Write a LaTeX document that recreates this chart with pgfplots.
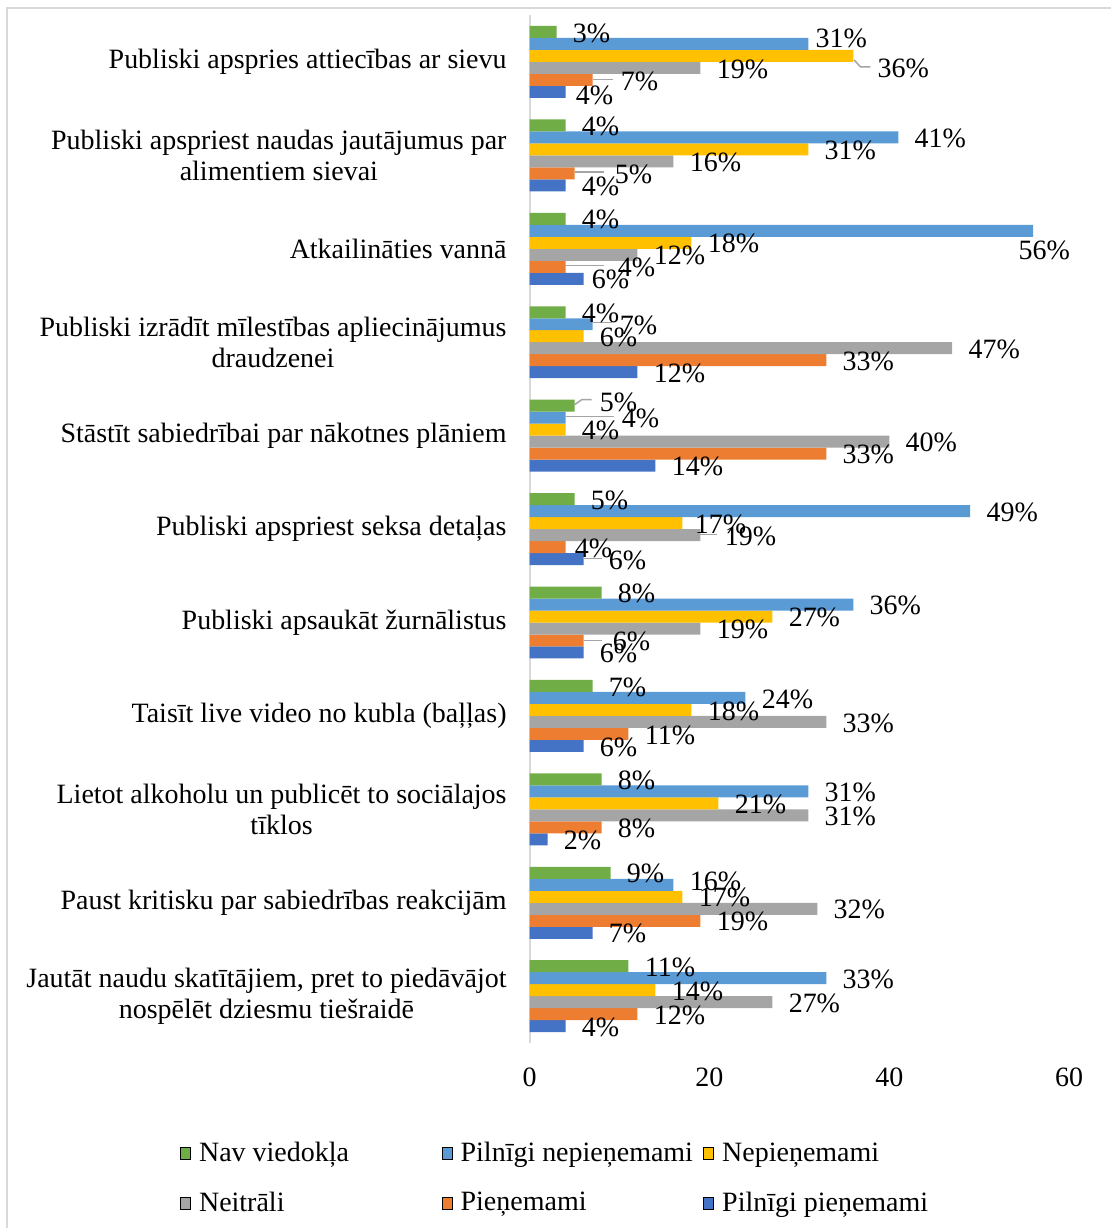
\documentclass[border=0pt]{standalone}
\usepackage{fontspec}
\setmainfont{Liberation Serif}
\usepackage{pgfplots}
\usepackage{pgfplotstable}
\pgfplotsset{compat=1.18}
\definecolor{cgreen}{HTML}{70AD47}
\definecolor{clblue}{HTML}{5B9BD5}
\definecolor{cyellow}{HTML}{FFC000}
\definecolor{cgray}{HTML}{A5A5A5}
\definecolor{corange}{HTML}{ED7D31}
\definecolor{cdblue}{HTML}{4472C4}
\definecolor{cframe}{HTML}{D9D9D9}
\pgfplotstableread{
idx nav pilnne ne neit pien pilnpien
0  3  31 36 19  7  4
1  4  41 31 16  5  4
2  4  56 18 12  4  6
3  4   7  6 47 33 12
4  5   4  4 40 33 14
5  5  49 17 19  4  6
6  8  36 27 19  6  6
7  7  24 18 33 11  6
8  8  31 21 31  8  2
9  9  16 17 32 19  7
10 11 33 14 27 12  4
}\datatable
\begin{document}
\begin{tikzpicture}[x=1pt,y=1pt,font=\fontsize{14}{15.5}\selectfont]
\path (0,0) rectangle (556,-614.5);
\draw[cframe, line width=1pt] (3.5,-614.5) -- (3.5,-4) -- (556,-4);
\begin{axis}[
  at={(265pt,-7.625pt)}, anchor=north west,
  scale only axis, width=270pt, height=514.25pt,
  xbar=0pt, bar width=6pt,
  xmin=0, xmax=60, ymin=-0.5, ymax=10.5, y dir=reverse,
  axis x line*=bottom, axis y line*=left,
  x axis line style={draw=none},
  y axis line style={draw=cframe, line width=1pt, -},
  major tick length=0pt,
  xtick={0,20,40,60},
  ytick={0,1,2,3,4,5,6,7,8,9,10},
  yticklabels={
    Publiski apspries attiecības ar sievu,
    {Publiski apspriest naudas jautājumus par\\alimentiem sievai},
    Atkailināties vannā,
    {Publiski izrādīt mīlestības apliecinājumus\\draudzenei},
    Stāstīt sabiedrībai par nākotnes plāniem,
    Publiski apspriest seksa detaļas,
    Publiski apsaukāt žurnālistus,
    Taisīt live video no kubla (baļļas),
    {Lietot alkoholu un publicēt to sociālajos\\tīklos},
    Paust kritisku par sabiedrības reakcijām,
    {Jautāt naudu skatītājiem, pret to piedāvājot\\nospēlēt dziesmu tiešraidē}
  },
  yticklabel style={align=center, xshift=-8pt},
  xticklabel style={yshift=-9pt},
  /pgf/number format/assume math mode=true,
  point meta=x,
  nodes near coords={\pgfmathprintnumber{\pgfplotspointmeta}\%},
  nodes near coords style={anchor=west, inner sep=2pt, black, xshift=6pt, yshift=-0.5pt},
  legend columns=3,
  legend cell align=left,
  legend style={at={(-0.6481,-0.0926)}, anchor=north west, draw=none, inner sep=0pt,
    column sep=0pt, row sep=9.5pt, nodes={inner sep=2pt, anchor=west}},
  legend image code/.code={\fill[#1] (0pt,-3pt) rectangle (5pt,3pt);},
]
\addplot[forget plot, bar shift=-15pt, fill=cdblue, draw=none,
  coordinate style/.condition={\coordindex==0}{xshift=-3pt, yshift=-1pt},
  coordinate style/.condition={\coordindex==2}{xshift=-4pt},
  coordinate style/.condition={\coordindex==5}{xshift=4.5pt}]
  table[x=pilnpien, y=idx] {\datatable};
\addplot[forget plot, bar shift=-9pt, fill=corange, draw=none,
  coordinate style/.condition={\coordindex==0}{xshift=6pt},
  coordinate style/.condition={\coordindex==1}{xshift=12pt},
  coordinate style/.condition={\coordindex==2}{xshift=18pt},
  coordinate style/.condition={\coordindex==5}{xshift=-3.5pt},
  coordinate style/.condition={\coordindex==6}{xshift=6.5pt}]
  table[x=pien, y=idx] {\datatable};
\addplot[forget plot, bar shift=-3pt, fill=cgray, draw=none,
  coordinate style/.condition={\coordindex==5}{xshift=4pt}]
  table[x=neit, y=idx] {\datatable};
\addplot[forget plot, bar shift=3pt, fill=cyellow, draw=none,
  coordinate style/.condition={\coordindex==0}{xshift=4pt, yshift=-5.5pt},
  coordinate style/.condition={\coordindex==5}{xshift=-2pt}]
  table[x=ne, y=idx] {\datatable};
\addplot[forget plot, bar shift=9pt, fill=clblue, draw=none,
  coordinate style/.condition={\coordindex==0}{xshift=-4.5pt, yshift=3.5pt},
  coordinate style/.condition={\coordindex==2}{xshift=-15.5pt, yshift=-9.5pt},
  coordinate style/.condition={\coordindex==3}{xshift=5.5pt},
  coordinate style/.condition={\coordindex==4}{xshift=20pt},
  coordinate style/.condition={\coordindex==9}{yshift=2pt}]
  table[x=pilnne, y=idx] {\datatable};
\addplot[forget plot, bar shift=15pt, fill=cgreen, draw=none,
  coordinate style/.condition={\coordindex==4}{xshift=4.5pt, yshift=2pt}]
  table[x=nav, y=idx] {\datatable};
\addlegendimage{fill=cgreen}
\addlegendentry{\hspace{2pt}\makebox[119.5pt][l]{Nav viedokļa}}
\addlegendimage{fill=clblue}
\addlegendentry{\hspace{2pt}\makebox[119.5pt][l]{Pilnīgi nepieņemami}}
\addlegendimage{fill=cyellow}
\addlegendentry{\hspace{2pt}\makebox[119.5pt][l]{Nepieņemami}}
\addlegendimage{fill=cgray}
\addlegendentry{\hspace{2pt}\makebox[119.5pt][l]{Neitrāli}}
\addlegendimage{fill=corange}
\addlegendentry{\hspace{2pt}\makebox[119.5pt][l]{Pieņemami}}
\addlegendimage{fill=cdblue}
\addlegendentry{\hspace{2pt}\makebox[119.5pt][l]{Pilnīgi pieņemami}}
% leader lines
\begin{scope}[cgray, line width=0.75pt]
\draw (axis cs:36.1,-0.021) -- (axis cs:36.8,0.053) -- (axis cs:37.9,0.053);
\draw (axis cs:7,0.19) -- (axis cs:9.3,0.19);
\draw (axis cs:5,1.177) -- (axis cs:8.3,1.177);
\draw (axis cs:4,2.18) -- (axis cs:8.3,2.18);
\draw (axis cs:7,2.79) -- (axis cs:9.2,2.79);
\draw (axis cs:5,3.669) -- (axis cs:5.8,3.615) -- (axis cs:6.9,3.615);
\draw (axis cs:4,3.797) -- (axis cs:9.4,3.797);
\draw (axis cs:19,5.059) -- (axis cs:20.8,5.059);
\draw (axis cs:6,5.315) -- (axis cs:8.0,5.315);
\draw (axis cs:6,6.193) -- (axis cs:8.1,6.193);
\end{scope}
\end{axis}
\end{tikzpicture}
\end{document}
